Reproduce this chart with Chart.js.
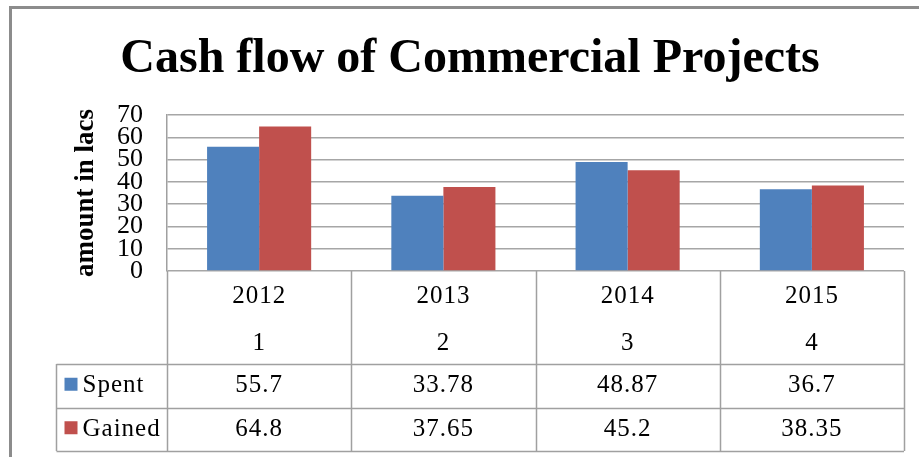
<!DOCTYPE html>
<html>
<head>
<meta charset="utf-8">
<title>Cash flow of Commercial Projects</title>
<script src="https://cdn.jsdelivr.net/npm/chart.js@4"></script>
<style>
    body { margin: 0; background: #fff; }
    canvas { display: block; }
</style>
</head>
<body>
<canvas id="cashChart" width="919" height="457"></canvas>
<script>
const chartTitle = 'Cash flow of Commercial Projects';
const yAxisTitle = 'amount in lacs';
const years = ['2012', '2013', '2014', '2015'];
const periods = ['1', '2', '3', '4'];
const seriesNames = ['Spent', 'Gained'];
const spent = [55.7, 33.78, 48.87, 36.7];
const gained = [64.8, 37.65, 45.2, 38.35];
const yTicks = [0, 10, 20, 30, 40, 50, 60, 70];

const blue = '#4F81BD';
const red = '#C0504D';
const lineGray = '#a0a0a0';
const serif = "'Liberation Serif', 'Times New Roman', serif";

// Outer frame, title and the Excel style data table under the plot
const tablePlugin = {
    id: 'dataTable',
    beforeDraw: (chart) => {
        const ctx = chart.ctx;
        ctx.save();
        ctx.strokeStyle = '#8c8c8c';
        ctx.lineWidth = 3;
        ctx.beginPath();
        ctx.moveTo(10.5, chart.height);
        ctx.lineTo(10.5, 7.5);
        ctx.lineTo(chart.width, 7.5);
        ctx.stroke();
        ctx.restore();
    },
    afterDraw: (chart) => {
        const ctx = chart.ctx;
        const x = chart.scales.x;
        const area = chart.chartArea;
        const n = years.length;
        const colW = (x.right - x.left) / n;
        const headBottom = area.bottom + 93;
        const rowH = 43.5;
        const tableBottom = headBottom + rowH * 2;
        const legendLeft = 56.5;

        ctx.save();
        // title
        ctx.fillStyle = '#000';
        ctx.font = 'bold 48px ' + serif;
        ctx.textAlign = 'center';
        ctx.textBaseline = 'alphabetic';
        ctx.fillText(chartTitle, 470, 72);

        // grid of the table
        ctx.strokeStyle = lineGray;
        ctx.lineWidth = 1.5;
        ctx.beginPath();
        for (let i = 0; i <= n; i++) {
            const px = Math.round(x.left + colW * i) + 0.5;
            ctx.moveTo(px, area.bottom);
            ctx.lineTo(px, tableBottom);
        }
        ctx.moveTo(legendLeft, headBottom);
        ctx.lineTo(legendLeft, tableBottom);
        for (let r = 0; r <= 2; r++) {
            const py = Math.round(headBottom + rowH * r) + 0.5;
            ctx.moveTo(legendLeft, py);
            ctx.lineTo(x.right, py);
        }
        ctx.stroke();

        // header rows
        ctx.fillStyle = '#000';
        ctx.font = '25px ' + serif;
        ctx.letterSpacing = '1px';
        ctx.textAlign = 'center';
        ctx.textBaseline = 'middle';
        years.forEach((year, i) => {
            const cx = x.getPixelForValue(i);
            ctx.fillText(year, cx, area.bottom + 25);
            ctx.fillText(periods[i], cx, area.bottom + 72);
        });

        // value rows with legend keys
        const rows = [spent, gained];
        const colors = [blue, red];
        rows.forEach((values, r) => {
            const cy = headBottom + rowH * r + rowH / 2;
            values.forEach((v, i) => {
                ctx.fillText(String(v), x.getPixelForValue(i), cy);
            });
            ctx.fillStyle = colors[r];
            ctx.fillRect(legendLeft + 8, cy - 8, 13, 13);
            ctx.fillStyle = '#000';
            ctx.textAlign = 'left';
            ctx.fillText(seriesNames[r], legendLeft + 26, cy);
            ctx.textAlign = 'center';
        });
        ctx.restore();
    }
};

const ctx = document.getElementById('cashChart').getContext('2d');

new Chart(ctx, {
    type: 'bar',
    data: {
        labels: years,
        datasets: [
            {
                label: seriesNames[0],
                data: spent,
                backgroundColor: blue,
                categoryPercentage: 0.565,
                barPercentage: 1
            },
            {
                label: seriesNames[1],
                data: gained,
                backgroundColor: red,
                categoryPercentage: 0.565,
                barPercentage: 1
            }
        ]
    },
    options: {
        responsive: false,
        animation: false,
        layout: {
            padding: { top: 115, right: 15, bottom: 186, left: 0 }
        },
        plugins: {
            legend: { display: false },
            tooltip: { enabled: false },
            title: { display: false }
        },
        scales: {
            x: {
                display: false
            },
            y: {
                min: yTicks[0],
                max: yTicks[yTicks.length - 1],
                afterFit: (scale) => { scale.width = 167; },
                afterBuildTicks: (scale) => {
                    scale.ticks = yTicks.map(v => ({ value: v }));
                },
                ticks: {
                    autoSkip: false,
                    padding: 24,
                    color: '#000',
                    font: { family: serif, size: 26, lineHeight: 1 }
                },
                grid: {
                    color: '#a6a6a6',
                    lineWidth: 1.5,
                    drawTicks: false
                },
                border: {
                    color: '#a0a0a0',
                    width: 1.5
                },
                title: {
                    display: true,
                    text: yAxisTitle,
                    color: '#000',
                    font: { family: serif, size: 27, weight: 'bold', lineHeight: 1.2 },
                    padding: { top: 70, bottom: 0 }
                }
            }
        }
    },
    plugins: [tablePlugin]
});
</script>
</body>
</html>
